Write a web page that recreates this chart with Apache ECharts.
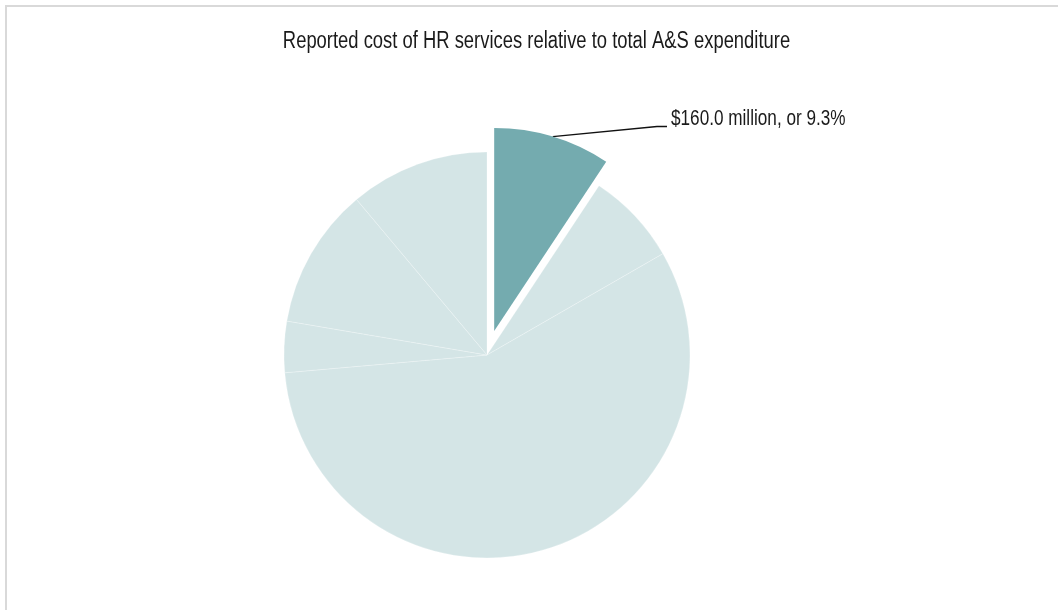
<!DOCTYPE html>
<html>
<head>
<meta charset="utf-8">
<script src="https://cdn.jsdelivr.net/npm/echarts@6/dist/echarts.min.js"></script>
<style>
  html, body { margin: 0; padding: 0; background: #fff; }
  #frame { position: absolute; left: 5px; top: 5px; width: 1060px; height: 620px;
           border-left: 2px solid #d9d9d9; border-top: 2px solid #d9d9d9; box-sizing: border-box; }
  #chart { position: absolute; left: 0; top: 0; width: 1058px; height: 610px; }
</style>
</head>
<body>
<div id="frame"></div>
<div id="chart"></div>
<script>
// A&S expenditure by service area, $ millions (HR services first, pulled out)
const categories = ['HR services', 'Other A', 'Other B', 'Other C', 'Other D', 'Other E'];
const values = [160, 127, 979, 70, 193, 191];
const titleText = 'Reported cost of HR services relative to total A&S expenditure';

const total = values.reduce((a, b) => a + b, 0);
const hrLabel = '$' + values[0].toFixed(1) + ' million, or ' + (values[0] / total * 100).toFixed(1) + '%';

const FONT = '"Liberation Sans", Arial, sans-serif';
const DARK = '#74abaf';
const LIGHT = '#d4e5e6';
const OFFSET = 25;          // pull-out distance of the HR slice
const CONDENSE = 0.78;      // horizontal squeeze for the narrow lettering

const chart = echarts.init(document.getElementById('chart'), null, { renderer: 'canvas' });

const data = categories.map((name, i) => {
  const item = { name, value: values[i] };
  if (i === 0) {
    item.selected = true;
    item.itemStyle = { color: DARK, borderWidth: 0 };
    item.select = { itemStyle: { color: DARK, borderWidth: 0 } };
  } else {
    item.itemStyle = { color: LIGHT };
  }
  return item;
});

chart.setOption({
  animation: false,
  series: [{
    type: 'pie',
    center: [487, 355],
    radius: 203,
    startAngle: 90,
    clockwise: true,
    selectedMode: 'single',
    selectedOffset: OFFSET,
    itemStyle: { borderColor: 'rgba(255,255,255,0.4)', borderWidth: 0.6 },
    emphasis: { disabled: true },
    label: { show: false },
    labelLine: { show: false },
    data: data
  }]
});

// Title, squeezed horizontally to get the narrow lettering
const graphics = [{
  type: 'text',
  x: 536.5,
  y: 41.5,
  scaleX: 0.8,
  style: {
    text: titleText,
    font: 'normal 23px ' + FONT,
    fill: '#1a1a1a',
    align: 'center', verticalAlign: 'middle',
    textAlign: 'center', textVerticalAlign: 'middle'
  }
}];

// Callout for the HR slice: line from the middle of its (pulled-out) arc to the text
const layout = chart.getModel().getSeriesByIndex(0).getData().getItemLayout(0);
if (layout) {
  const mid = (layout.startAngle + layout.endAngle) / 2;
  const rr = layout.r + OFFSET;
  const sx = layout.cx + Math.cos(mid) * rr;
  const sy = layout.cy + Math.sin(mid) * rr;
  const ex = 667, ey = 126.5;
  graphics.push({
    type: 'polyline',
    shape: { points: [[sx, sy], [ex - 10, ey], [ex, ey]] },
    style: { stroke: '#111', lineWidth: 1.3, fill: null }
  });
  graphics.push({
    type: 'text',
    x: ex + 4,
    y: ey - 8,
    scaleX: CONDENSE,
    style: {
      text: hrLabel,
      font: 'normal 22px ' + FONT,
      fill: '#1a1a1a',
      align: 'left', verticalAlign: 'middle',
      textAlign: 'left', textVerticalAlign: 'middle'
    }
  });
}

chart.setOption({ graphic: graphics });
</script>
</body>
</html>
